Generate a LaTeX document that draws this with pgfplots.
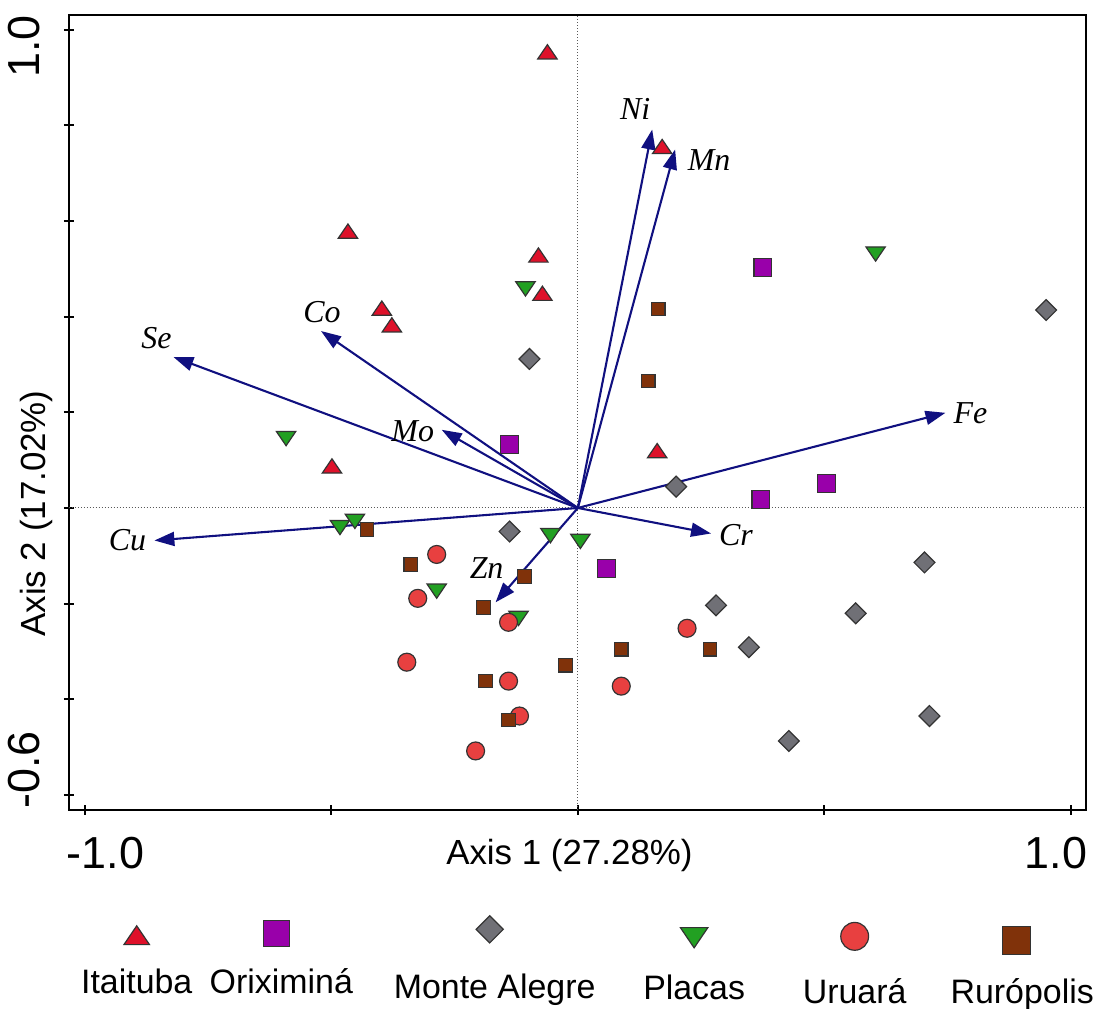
\documentclass[border=0pt]{standalone}
\usepackage{fontspec}
\setmainfont{Liberation Sans}
\newfontfamily\serifit{Liberation Serif}
\usepackage{pgfplots}
\pgfplotsset{compat=1.18}
\usetikzlibrary{arrows.meta}

\definecolor{cIta}{RGB}{222,17,42}
\definecolor{cOri}{RGB}{153,0,170}
\definecolor{cMon}{RGB}{112,112,118}
\definecolor{cPla}{RGB}{34,160,34}
\definecolor{cUru}{RGB}{232,64,64}
\definecolor{cRur}{RGB}{128,50,10}
\definecolor{cVec}{RGB}{16,16,128}

\pgfplotsset{
  legtext/.style n args={6}{
    legend image code/.code={
      \draw[##1, /tikz/every mark/.append style={scale=#6}] plot coordinates {(#3,#4)};
      \node[anchor=base, inner sep=0pt, font=\fontsize{17}{20}\selectfont, text=black] at (0pt,#5) {\makebox[#2]{#1}};
    }
  },
  vec/.style={cVec, line width=1.05pt, -{Triangle[length=10pt,width=7pt]}, forget plot},
}
\tikzset{vlab/.style={font=\fontsize{16}{18}\selectfont\serifit\itshape, text=black, inner sep=0pt}}

\begin{document}
\begin{tikzpicture}
\begin{axis}[
  name=main,
  scale only axis,
  width=510pt, height=398.5pt,
  xmin=-1.032, xmax=1.030, ymin=-0.631, ymax=1.031,
  axis line style={line width=1.2pt},
  xtick={-1,-0.5,0,0.5,1},
  xticklabels={-1.0\hspace*{-21pt},,,,\hspace*{-15pt}1.0},
  ytick={-0.6,-0.4,-0.2,0,0.2,0.4,0.6,0.8,1.0},
  yticklabels={-0.6\hspace*{-25pt},,,,,,,,\hspace*{-17pt}1.0},
  xtick pos=bottom, ytick pos=left,
  tick align=center,
  major tick length=5pt,
  tick style={line width=1pt, black},
  ticklabel style={font=\fontsize{22.5}{26}\selectfont, inner sep=0pt},
  yticklabel style={rotate=90, anchor=south},
  xticklabel style={anchor=north},
  xticklabel shift=11pt,
  yticklabel shift=12pt,
  /pgf/number format/assume math mode=true,
  xlabel={Axis 1 (27.28\%)},
  ylabel={Axis 2 (17.02\%)},
  label style={font=\fontsize{17.5}{21}\selectfont},
  xlabel style={at={(axis description cs:0.4922,-0.0577)}, anchor=center},
  ylabel style={at={(axis description cs:-0.0314,0.3727)}, anchor=center},
  legend columns=6,
  legend style={at={(axis description cs:0.505,-0.133)}, anchor=north, draw=none, fill=none, inner sep=0pt, /tikz/column sep=0pt, nodes={inner sep=0pt}},
]
\draw[black!65, densely dotted, line width=0.5pt] (axis cs:0,-0.631) -- (axis cs:0,1.031);
\draw[black!65, densely dotted, line width=0.5pt] (axis cs:-1.032,0) -- (axis cs:1.030,0);

% Itaituba
\addplot[only marks, mark=triangle*, mark size=5.6pt, mark options={yscale=0.85, fill=cIta, draw=black!80, line width=0.6pt},
  legtext={Itaituba}{66pt}{0pt}{-1.5pt}{-29pt}{1.32}] coordinates {
(-0.0617,0.949) (0.1709,0.751) (-0.4661,0.574) (-0.0799,0.524) (-0.0718,0.444)
(-0.3974,0.413) (-0.3771,0.378) (0.1608,0.115) (-0.4985,0.083)};
\addlegendentry{}
% Oriximina
\addplot[only marks, mark=square*, mark size=4.5pt, mark options={fill=cOri, draw=black!80, line width=0.6pt},
  legtext={Oriximiná}{77pt}{-2.5pt}{1pt}{-29pt}{1.44}] coordinates {
(0.3751,0.5035) (-0.1385,0.1322) (0.5046,0.0509) (0.3711,0.0175) (0.0576,-0.1264)};
\addlegendentry{}
% Monte Alegre
\addplot[only marks, mark=square*, mark size=3.7pt, mark options={rotate=45, fill=cMon, draw=black!80, line width=0.6pt},
  legtext={Monte Alegre}{135pt}{-2.5pt}{3pt}{-31.5pt}{1.3}] coordinates {
(0.9494,0.4139) (-0.0981,0.3116) (0.1992,0.0446) (-0.1385,-0.0492) (0.7027,-0.1139)
(0.2801,-0.2036) (0.5632,-0.2203) (0.3468,-0.2912) (0.7128,-0.4351) (0.4277,-0.4873)};
\addlegendentry{}
% Placas
\addplot[only marks, mark=triangle*, mark size=5.6pt, mark options={rotate=180, yscale=0.85, fill=cPla, draw=black!80, line width=0.6pt},
  legtext={Placas}{63pt}{0pt}{0.5pt}{-32pt}{1.42}] coordinates {
(0.6036,0.536) (-0.1062,0.463) (-0.5915,0.150) (-0.4823,-0.036) (-0.4520,-0.023)
(-0.0556,-0.053) (0.0051,-0.065) (-0.2862,-0.169) (-0.1203,-0.226)};
\addlegendentry{}
% Uruara
\addplot[only marks, mark=*, mark size=4.5pt, mark options={fill=cUru, draw=black!80, line width=0.6pt},
  legtext={Uruará}{96pt}{0pt}{-0.5pt}{-34pt}{1.55}] coordinates {
(-0.2862,-0.0972) (-0.3246,-0.1890) (-0.1405,-0.2391) (-0.3468,-0.3225) (-0.1405,-0.3621)
(-0.1183,-0.4351) (-0.2073,-0.5081) (0.2214,-0.2516) (0.0880,-0.3726)};
\addlegendentry{}
% Ruropolis
\addplot[only marks, mark=square*, mark size=3.4pt, mark options={fill=cRur, draw=black!80, line width=0.6pt},
  legtext={Rurópolis}{70pt}{-3pt}{-2.5pt}{-34pt}{2.06}] coordinates {
(0.1628,0.4159) (0.1426,0.2657) (-0.4277,-0.0451) (-0.3387,-0.1181) (-0.1082,-0.1431)
(-0.1911,-0.2078) (-0.0253,-0.3288) (-0.1871,-0.3621) (-0.1405,-0.4435) (0.0880,-0.2954)
(0.2679,-0.2954)};
\addlegendentry{}

% vectors
\addplot[vec] coordinates {(0,0) (0.1507,0.7914)};
\addplot[vec] coordinates {(0,0) (0.1972,0.7497)};
\addplot[vec] coordinates {(0,0) (-0.8200,0.3158)};
\addplot[vec] coordinates {(0,0) (-0.5207,0.3700)};
\addplot[vec] coordinates {(0,0) (-0.2760,0.1635)};
\addplot[vec] coordinates {(0,0) (0.7452,0.1990)};
\addplot[vec] coordinates {(0,0) (-0.8584,-0.0680)};
\addplot[vec] coordinates {(0,0) (0.2700,-0.0534)};
\addplot[vec] coordinates {(0,0) (-0.1668,-0.1973)};

\node[vlab] at (axis cs:0.1163,0.8352) {Ni};
\node[vlab] at (axis cs:0.2659,0.7268) {Mn};
\node[vlab] at (axis cs:-0.8544,0.3554) {Se};
\node[vlab] at (axis cs:-0.5187,0.4097) {Co};
\node[vlab] at (axis cs:-0.3347,0.1615) {Mo};
\node[vlab] at (axis cs:0.7958,0.1990) {Fe};
\node[vlab] at (axis cs:-0.9131,-0.0680) {Cu};
\node[vlab] at (axis cs:0.3205,-0.0576) {Cr};
\node[vlab] at (axis cs:-0.1850,-0.1264) {Zn};
\end{axis}
\path (main.south west) ++(-34.5pt,-99.5pt) rectangle ++(547pt,505.5pt);
\end{tikzpicture}
\end{document}
